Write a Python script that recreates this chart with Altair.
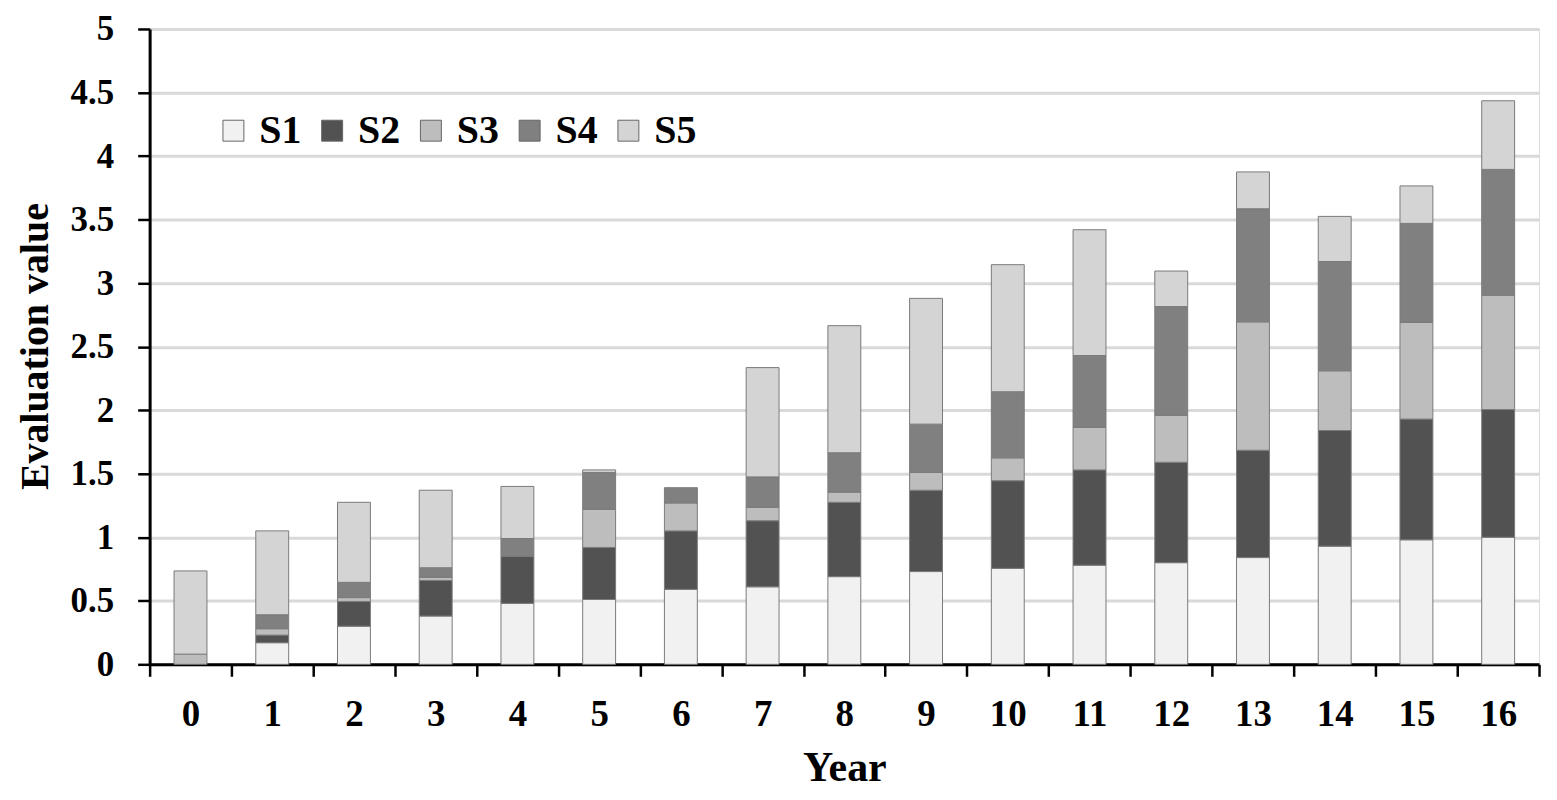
import altair as alt
import pandas as pd

years = [str(i) for i in range(17)]
series = ["S1", "S2", "S3", "S4", "S5"]
s1 = [0.00, 0.17, 0.30, 0.38, 0.48, 0.51, 0.59, 0.61, 0.69, 0.73, 0.755, 0.78, 0.80, 0.84, 0.93, 0.98, 1.00]
s2 = [0.00, 0.06, 0.195, 0.28, 0.37, 0.41, 0.46, 0.52, 0.585, 0.64, 0.69, 0.75, 0.79, 0.845, 0.91, 0.95, 1.005]
s3 = [0.08, 0.05, 0.03, 0.025, 0.00, 0.30, 0.22, 0.105, 0.08, 0.14, 0.18, 0.335, 0.37, 1.01, 0.47, 0.76, 0.90]
s4 = [0.00, 0.11, 0.12, 0.075, 0.14, 0.29, 0.12, 0.24, 0.31, 0.38, 0.52, 0.565, 0.855, 0.89, 0.86, 0.78, 0.99]
s5 = [0.655, 0.66, 0.63, 0.61, 0.41, 0.02, 0.00, 0.86, 1.00, 0.99, 1.00, 0.99, 0.28, 0.29, 0.355, 0.295, 0.54]
y_ticks = [0, 0.5, 1, 1.5, 2, 2.5, 3, 3.5, 4, 4.5, 5]
fills = ["#f1f1f1", "#525252", "#bdbdbd", "#808080", "#d4d4d4"]

rows = []
for name, vals in zip(series, [s1, s2, s3, s4, s5]):
    for y, v in zip(years, vals):
        if v > 0:
            rows.append({"Year": y, "Series": name, "Value": v, "Order": series.index(name)})
df = pd.DataFrame(rows)

FONT = "Liberation Serif"

chart = alt.Chart(df).mark_bar(
    size=33, stroke="#7a7a7a", strokeWidth=1
).encode(
    x=alt.X("Year:N", sort=years, scale=alt.Scale(paddingInner=0, paddingOuter=0),
            axis=alt.Axis(title="Year", labelAngle=0, tickBand="extent",
                          domainColor="black", domainWidth=3, tickColor="black",
                          tickWidth=2.5, tickSize=12, labelPadding=20,
                          labelFont=FONT, labelFontSize=37, labelFontWeight="bold",
                          labelColor="black", titleFont=FONT, titleFontSize=42,
                          titleFontWeight="bold", titleColor="black",
                          titleBaseline="alphabetic", titleY=116, grid=False)),
    y=alt.Y("Value:Q", stack="zero", scale=alt.Scale(domain=[0, 5], nice=False),
            axis=alt.Axis(title="Evaluation value", values=y_ticks, format="~g",
                          domainColor="black", domainWidth=3, tickColor="black",
                          tickWidth=2.5, tickSize=12, labelPadding=24,
                          labelFont=FONT, labelFontSize=35, labelFontWeight="bold",
                          labelColor="black", titleFont=FONT, titleFontSize=40,
                          titleFontWeight="bold", titleColor="black",
                          titleAngle=-90, titleX=-114, titleY=318, titleAlign="center",
                          titleBaseline="middle",
                          grid=True, gridColor="#d9d9d9", gridWidth=3)),
    color=alt.Color("Series:N", scale=alt.Scale(domain=series, range=fills),
                    legend=alt.Legend(title=None, orient="none", legendX=64, legendY=82,
                                      direction="horizontal", symbolType="square",
                                      symbolSize=441, symbolStrokeColor="#666666",
                                      symbolStrokeWidth=1, symbolOpacity=1,
                                      labelFont=FONT, labelFontSize=40,
                                      labelFontWeight="bold", labelColor="black",
                                      labelOffset=6, columnPadding=10, padding=0)),
    order=alt.Order("Order:Q", sort="ascending"),
).properties(
    width=1393, height=637,
    autosize=alt.AutoSizeParams(type="none"),
    padding={"left": 142, "top": 20, "right": 10, "bottom": 127},
).configure_view(stroke=None).configure(background="white")

chart.save("out.html", embed_options={"renderer": "svg", "actions": False})
